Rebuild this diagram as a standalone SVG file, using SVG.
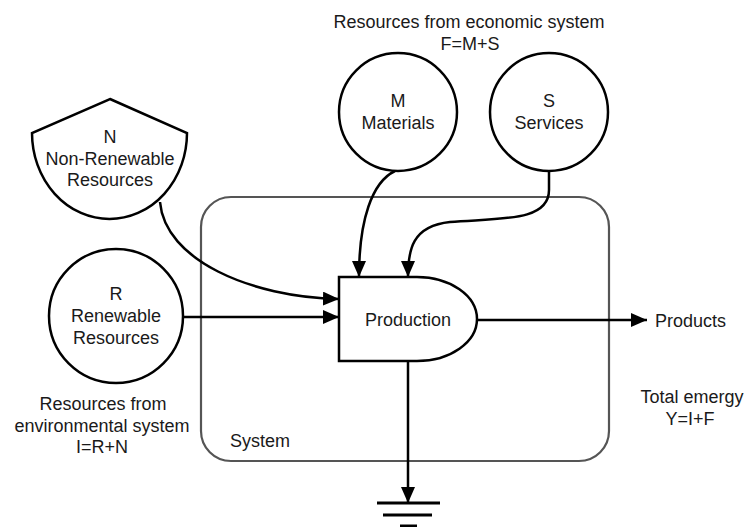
<svg xmlns="http://www.w3.org/2000/svg" width="748" height="527" viewBox="0 0 748 527">
<defs>
<style>
text{font-family:"Liberation Sans",Arial,sans-serif;font-size:18px;fill:#1a1a1a;text-anchor:middle}
.shape{fill:#fff;stroke:#000;stroke-width:2.5}
.edge{fill:none;stroke:#000;stroke-width:2.5}
.sys{fill:none;stroke:#555;stroke-width:2.2}
.gnd{stroke:#000;stroke-width:3}
</style>
<marker id="arr" markerUnits="userSpaceOnUse" markerWidth="17" markerHeight="14" refX="16" refY="7" orient="auto">
<path d="M0,0 L16,7 L0,14 z" fill="#000"/>
</marker>
</defs>
<rect width="748" height="527" fill="#fff"/>
<g id="system">
<rect class="sys" x="201" y="197" width="408" height="264" rx="30" ry="30"/>
<text x="260" y="447">System</text>
</g>
<g id="connectors">
<path class="edge" d="M395 171 C372 182 359 220 359 277" marker-end="url(#arr)"/>
<path class="edge" d="M549 171 L549 190 C549 222 500 218 450 222 C412 226 408 250 408 277" marker-end="url(#arr)"/>
<path class="edge" d="M160 202 C165 260 250 297 339 299" marker-end="url(#arr)"/>
<path class="edge" d="M183 317 L339 317" marker-end="url(#arr)"/>
<path class="edge" d="M477 320 L647 320" marker-end="url(#arr)"/>
<path class="edge" d="M408 361 L408 503" marker-end="url(#arr)"/>
</g>
<g id="ground">
<line class="gnd" x1="377" y1="503" x2="440" y2="503"/>
<line class="gnd" x1="383" y1="515" x2="432" y2="515"/>
<line class="gnd" x1="400" y1="526" x2="417" y2="526"/>
</g>
<g id="production">
<path class="shape" d="M339 277 L417 277 A60 42 0 0 1 417 361 L339 361 Z"/>
<text x="408" y="326">Production</text>
</g>
<g id="materials">
<circle class="shape" cx="398" cy="112" r="59"/>
<text x="398" y="107">M</text>
<text x="398" y="129">Materials</text>
</g>
<g id="services">
<circle class="shape" cx="549" cy="112" r="59"/>
<text x="549" y="107">S</text>
<text x="549" y="129">Services</text>
</g>
<g id="nonrenewable">
<path class="shape" d="M110 99 L187 133 A77.5 86 0 0 1 32 133 Z"/>
<text x="110" y="143">N</text>
<text x="110" y="165">Non-Renewable</text>
<text x="110" y="186">Resources</text>
</g>
<g id="renewable">
<circle class="shape" cx="116" cy="316" r="67"/>
<text x="116" y="300">R</text>
<text x="116" y="322">Renewable</text>
<text x="116" y="344">Resources</text>
</g>
<g id="labels">
<text x="469" y="28">Resources from economic system</text>
<text x="470" y="50">F=M+S</text>
<text x="103" y="410">Resources from</text>
<text x="102" y="432">environmental system</text>
<text x="102" y="453">I=R+N</text>
<text x="655" y="327" style="text-anchor:start">Products</text>
<text x="692" y="403">Total emergy</text>
<text x="690" y="425">Y=I+F</text>
</g>
</svg>
